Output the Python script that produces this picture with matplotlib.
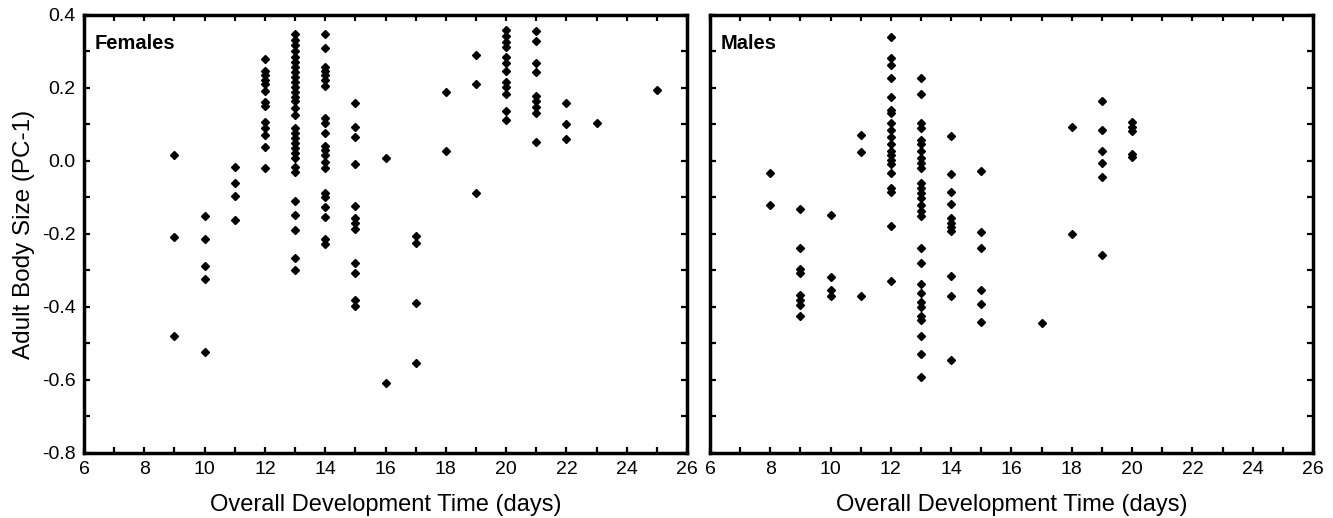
#!/usr/bin/env python3
"""Adult body size vs overall development time, females and males."""

import matplotlib
matplotlib.use("Agg")
import matplotlib.pyplot as plt
from matplotlib.ticker import MultipleLocator

plt.rcParams["font.family"] = ["Liberation Sans", "DejaVu Sans"]

# Females: development time (days) and PC-1 values
fem_x = ([9] * 3 + [10] * 5 + [11] * 4 + [12] * 13 + [13] * 30 + [14] * 21
         + [15] * 12 + [16] * 2 + [17] * 4 + [18] * 2 + [19] * 3 + [20] * 12
         + [21] * 9 + [22] * 3 + [23] + [25])
fem_y = [0.016, -0.208, -0.479,
         -0.151, -0.215, -0.288, -0.322, -0.524,
         -0.016, -0.059, -0.096, -0.162,
         0.279, 0.247, 0.235, 0.222, 0.212, 0.193, 0.162, 0.150, 0.106, 0.090,
         0.070, 0.037, -0.018,
         0.347, 0.331, 0.318, 0.300, 0.286, 0.272, 0.258, 0.245, 0.231, 0.217,
         0.204, 0.190, 0.176, 0.163, 0.144, 0.126, 0.089, 0.076, 0.062, 0.048,
         0.035, 0.021, 0.007, -0.016, -0.029, -0.111, -0.148, -0.189, -0.265,
         -0.299,
         0.347, 0.309, 0.257, 0.246, 0.235, 0.222, 0.206, 0.117, 0.105, 0.078,
         0.041, 0.029, 0.016, -0.002, -0.020, -0.087, -0.100, -0.125, -0.154,
         -0.215, -0.228,
         0.160, 0.094, 0.067, -0.008, -0.123, -0.157, -0.169, -0.187, -0.279,
         -0.306, -0.381, -0.397,
         0.007, -0.607,
         -0.205, -0.226, -0.388, -0.554,
         0.190, 0.026,
         0.290, 0.211, -0.087,
         0.359, 0.342, 0.327, 0.313, 0.284, 0.268, 0.247, 0.217, 0.202, 0.184,
         0.138, 0.112,
         0.357, 0.330, 0.269, 0.245, 0.179, 0.164, 0.149, 0.131, 0.053,
         0.160, 0.101, 0.059,
         0.104,
         0.195]

# Males
male_x = ([8] * 2 + [9] * 8 + [10] * 4 + [11] * 3 + [12] * 20 + [13] * 28
          + [14] * 11 + [15] * 6 + [17] + [18] * 2 + [19] * 6 + [20] * 5)
male_y = [-0.032, -0.121,
          -0.132, -0.239, -0.297, -0.306, -0.367, -0.381, -0.395, -0.424,
          -0.149, -0.319, -0.353, -0.370,
          0.071, 0.024, -0.370,
          0.339, 0.281, 0.263, 0.228, 0.176, 0.140, 0.131, 0.103, 0.085, 0.067,
          0.047, 0.028, 0.016, 0.003, -0.008, -0.032, -0.075, -0.084, -0.178,
          -0.329,
          0.228, 0.183, 0.103, 0.089, 0.058, 0.047, 0.026, 0.007, -0.006,
          -0.020, -0.061, -0.075, -0.089, -0.102, -0.121, -0.136, -0.151,
          -0.239, -0.280, -0.337, -0.361, -0.385, -0.401, -0.425, -0.436,
          -0.479, -0.529, -0.591,
          0.068, -0.036, -0.084, -0.118, -0.157, -0.169, -0.180, -0.191,
          -0.315, -0.370, -0.545,
          -0.027, -0.194, -0.239, -0.353, -0.393, -0.440,
          -0.445,
          0.092, -0.200,
          0.163, 0.085, 0.026, -0.006, -0.043, -0.258,
          0.108, 0.094, 0.083, 0.019, 0.010]

XTICKS = list(range(6, 27, 2))
YTICKS = [0.4, 0.2, 0.0, -0.2, -0.4, -0.6, -0.8]


def style(ax, show_ylabels):
    ax.set_xlim(6, 26)
    ax.set_ylim(-0.8, 0.4)
    ax.set_xticks(XTICKS)
    ax.xaxis.set_minor_locator(MultipleLocator(1))
    ax.set_yticks(YTICKS)
    ax.yaxis.set_minor_locator(MultipleLocator(0.1))
    ax.set_yticklabels([f"{v:.1f}" for v in YTICKS] if show_ylabels else [])
    ax.tick_params(which="both", direction="in", top=True, right=True,
                   width=1.6, length=4, labelsize=14, colors="black", pad=6)
    for sp in ax.spines.values():
        sp.set_linewidth(2.5)
    ax.set_xlabel("Overall Development Time (days)", fontsize=17, labelpad=11)


fig = plt.figure(figsize=(13.33, 5.18), dpi=100)
ax1 = fig.add_axes([0.063, 0.1255, 0.4524, 0.8456])
ax2 = fig.add_axes([0.5326, 0.1255, 0.4524, 0.8456])

ax1.plot(fem_x, fem_y, "D", color="black", markersize=4.5, linestyle="none")
ax2.plot(male_x, male_y, "D", color="black", markersize=4.5, linestyle="none")

style(ax1, True)
style(ax2, False)
ax1.set_ylabel("Adult Body Size (PC-1)", fontsize=17.5, labelpad=5)

ax1.text(0.018, 0.957, "Females", transform=ax1.transAxes, fontsize=14.5,
         fontweight="bold", va="top", ha="left")
ax2.text(0.018, 0.957, "Males", transform=ax2.transAxes, fontsize=14.5,
         fontweight="bold", va="top", ha="left")

fig.savefig("out.png", dpi=100)
